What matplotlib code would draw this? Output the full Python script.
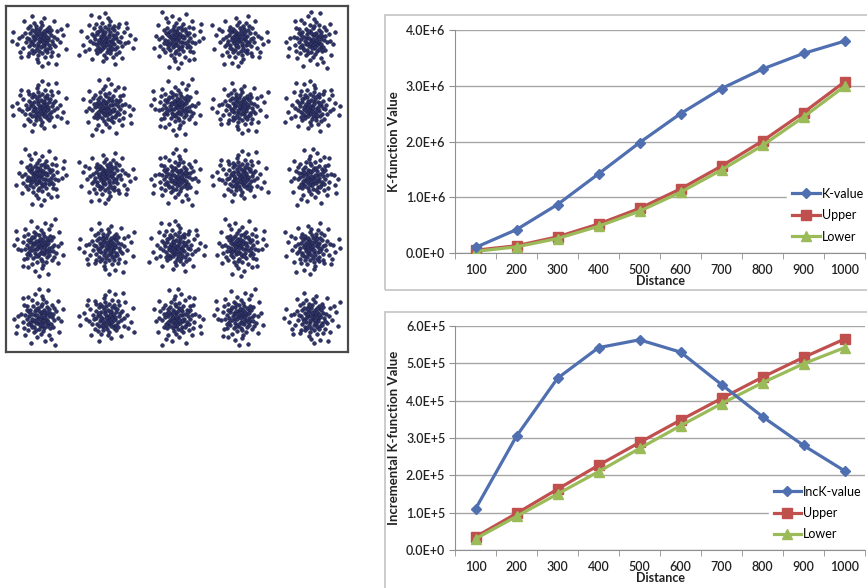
import matplotlib
matplotlib.use("Agg")
import matplotlib.pyplot as plt
from matplotlib.patches import Rectangle
from matplotlib.ticker import FuncFormatter, FixedLocator

plt.rcParams['font.family'] = ['Lato', 'DejaVu Sans']

# --- cluster pattern (left panel) ---
centre_x = [9.9, 29.5, 50.0, 68.4, 89.5]
centre_y = [90.2, 70.8, 50.6, 30.3, 10.1]

# offsets of one cluster
offsets = [
    (0.5, 1.2), (-1.8, 0.4), (2.3, -0.9), (-0.7, -2.1), (1.1, 2.8), (-2.9, 1.7), (3.4, 0.6), (-1.2, -3.3),
    (0.2, -0.6), (2.0, 2.1), (-3.6, -0.8), (1.6, -2.6), (-0.3, 3.6), (3.9, -2.2), (-2.4, -2.0), (0.9, 0.1),
    (-1.1, 2.4), (2.7, 3.5), (-4.1, 2.9), (4.4, 1.8), (-0.5, -4.5), (1.9, -4.0), (-3.0, -3.9), (3.1, -3.6),
    (0.0, 4.8), (-4.6, 0.3), (4.9, -0.4), (-1.6, 4.2), (2.5, -1.4), (-2.2, 0.9), (1.4, 1.0), (-0.9, -1.3),
    (0.6, -3.0), (-3.3, 3.8), (3.6, 3.0), (-1.9, -4.6), (2.8, 4.5), (-4.3, -2.6), (4.2, -3.1), (0.3, 2.2),
    (5.6, 1.2), (-5.8, -1.0), (1.0, 5.9), (-0.8, -6.1), (6.2, -2.4), (-6.0, 2.6), (3.9, 5.3), (-4.4, -5.2),
    (5.1, -4.9), (-5.0, 4.9), (6.8, 0.4), (-6.9, -3.2), (2.1, -6.8), (-2.5, 6.7), (7.1, 3.6), (-7.2, 1.4),
    (0.4, 7.3), (-1.2, -7.5), (4.6, -6.4), (-4.9, -6.5), (8.2, -1.0), (-8.4, 0.8), (1.7, 8.6), (-0.6, -8.9),
    (8.7, 4.4), (-8.1, -4.7), (5.9, 7.6), (-6.3, 7.4), (7.4, -6.1), (-7.6, -6.8), (9.6, 1.9), (-9.4, -1.8),
    (3.4, -9.3), (-3.1, 9.5), (10.5, -3.7), (-10.8, 3.2), (0.9, -10.6), (-11.4, -0.3), (6.5, -9.8), (11.2, 6.0),
    (1.3, -1.9), (-1.5, 1.5), (2.2, 0.3), (-2.6, -0.4), (0.1, 1.6), (-0.4, 0.4), (1.8, 3.5), (-2.0, 3.1),
    (3.3, -0.1), (-3.4, -1.7), (0.7, -5.2), (-1.4, 5.4), (5.3, -1.6), (-5.4, 0.9), (2.9, -5.0), (3.0, 1.3),
    (-2.7, -5.4), (4.6, 4.1), (-3.8, 5.6), (1.2, -1.0),
]
# orientation of the pattern for each cluster (row by row)
variant = [0, 3, 5, 1, 6,
           2, 7, 4, 0, 3,
           5, 1, 6, 2, 7,
           4, 0, 3, 5, 1,
           6, 2, 7, 4, 0]
spread = 0.72

# --- K-function (top right) ---
distance = [100, 200, 300, 400, 500, 600, 700, 800, 900, 1000]
k_value = [0.10e6, 0.42e6, 0.87e6, 1.42e6, 1.98e6, 2.50e6, 2.95e6, 3.30e6, 3.58e6, 3.80e6]
k_upper = [0.05e6, 0.13e6, 0.29e6, 0.52e6, 0.80e6, 1.15e6, 1.56e6, 2.01e6, 2.52e6, 3.07e6]
k_lower = [0.03e6, 0.11e6, 0.26e6, 0.48e6, 0.75e6, 1.09e6, 1.49e6, 1.93e6, 2.44e6, 2.99e6]

# --- incremental K-function (bottom right) ---
inck_value = [1.10e5, 3.05e5, 4.60e5, 5.42e5, 5.63e5, 5.30e5, 4.43e5, 3.57e5, 2.80e5, 2.12e5]
inck_upper = [0.35e5, 0.98e5, 1.63e5, 2.27e5, 2.88e5, 3.48e5, 4.06e5, 4.63e5, 5.16e5, 5.65e5]
inck_lower = [0.30e5, 0.90e5, 1.50e5, 2.10e5, 2.72e5, 3.33e5, 3.92e5, 4.48e5, 4.99e5, 5.42e5]

BLUE = '#4F6FB0'
RED = '#C0504D'
GREEN = '#9BBB59'


def sci(v, pos):
    if v == 0:
        return '0.0E+0'
    e = 0
    m = v
    while abs(m) >= 10:
        m /= 10
        e += 1
    return f'{m:.1f}E+{e}'


def line_panel(ax, vals, up, lo, ymax, ystep, ylabel, names):
    xs = list(range(len(distance)))
    ax.plot(xs, vals, color=BLUE, lw=2.3, marker='D', ms=5, mfc=BLUE, mec=BLUE, label=names[0], zorder=4)
    ax.plot(xs, up, color=RED, lw=2.3, marker='s', ms=7, mfc=RED, mec=RED, label=names[1], zorder=3)
    ax.plot(xs, lo, color=GREEN, lw=2.3, marker='^', ms=7, mfc=GREEN, mec=GREEN, label=names[2], zorder=3)
    ax.set_xlim(-0.5, len(distance) - 0.5)
    ax.set_ylim(0, ymax)
    ax.set_yticks([i * ystep for i in range(int(round(ymax / ystep)) + 1)])
    ax.yaxis.set_major_formatter(FuncFormatter(sci))
    ax.set_xticks(xs)
    ax.set_xticklabels([str(d) for d in distance])
    ax.xaxis.set_minor_locator(FixedLocator([i - 0.5 for i in range(len(distance) + 1)]))
    ax.tick_params(axis='x', which='major', length=0, pad=8, labelsize=9, labelcolor='#222222')
    ax.tick_params(axis='x', which='minor', length=4, color='#909090', direction='out')
    ax.tick_params(axis='y', length=4, color='#909090', labelsize=9, labelcolor='#222222', pad=3)
    for lab in ax.get_xticklabels() + ax.get_yticklabels():
        lab.set_fontweight('semibold')
    ax.grid(axis='y', color='#a6a6a6', lw=1)
    ax.set_axisbelow(True)
    for s in ('top', 'right'):
        ax.spines[s].set_visible(False)
    for s in ('left', 'bottom'):
        ax.spines[s].set_color('#909090')
    ax.set_xlabel('Distance', fontsize=9, fontweight='bold', labelpad=-1, color='#222222')
    ax.set_ylabel(ylabel, fontsize=9.5, fontweight='bold', color='#222222')


fig = plt.figure(figsize=(8.67, 5.88), dpi=100)

# left scatter panel
ax0 = fig.add_axes([0.0069, 0.4014, 0.3945, 0.5884])
px, py = [], []
k = 0
for cy in centre_y:
    for cx in centre_x:
        v = variant[k]
        k += 1
        for dx, dy in offsets:
            if v & 4:
                dx, dy = dy, dx
            if v & 1:
                dx = -dx
            if v & 2:
                dy = -dy
            px.append(cx + dx * spread)
            py.append(cy + dy * spread)
ax0.scatter(px, py, s=7, color='#2E3468', edgecolors='#1c1f45', linewidths=0.4)
ax0.set_xlim(0, 100)
ax0.set_ylim(0, 100)
ax0.set_xticks([])
ax0.set_yticks([])
for s in ax0.spines.values():
    s.set_color('#4a4a4a')
    s.set_linewidth(1.6)

# outer chart frames
fig.add_artist(Rectangle((0.444, 0.507), 0.6, 0.4675, transform=fig.transFigure,
                         fill=False, edgecolor='#c4c4c4', lw=1.2))
fig.add_artist(Rectangle((0.444, -0.1), 0.6, 0.5694, transform=fig.transFigure,
                         fill=False, edgecolor='#c4c4c4', lw=1.2))

ax1 = fig.add_axes([0.5248, 0.5697, 0.473, 0.3793])
line_panel(ax1, k_value, k_upper, k_lower, 4.0e6, 1.0e6, 'K-function Value',
           ['K-value', 'Upper', 'Lower'])
leg1 = ax1.legend(loc='upper left', bbox_to_anchor=(0.81, 0.315), frameon=True, fontsize=9,
                  handlelength=2.2, handletextpad=0.15, labelspacing=0.75, borderpad=0.4,
                  borderaxespad=0)
leg1.get_frame().set_facecolor('white')
leg1.get_frame().set_edgecolor('white')
leg1.get_frame().set_alpha(1)

ax2 = fig.add_axes([0.5248, 0.0646, 0.473, 0.381])
line_panel(ax2, inck_value, inck_upper, inck_lower, 6.0e5, 1.0e5, 'Incremental K-function Value',
           ['IncK-value', 'Upper', 'Lower'])
leg2 = ax2.legend(loc='upper left', bbox_to_anchor=(0.765, 0.31), frameon=True, fontsize=9,
                  handlelength=2.2, handletextpad=0.15, labelspacing=0.75, borderpad=0.4,
                  borderaxespad=0)
leg2.get_frame().set_facecolor('white')
leg2.get_frame().set_edgecolor('white')
leg2.get_frame().set_alpha(1)

fig.savefig('out.png', dpi=100)
